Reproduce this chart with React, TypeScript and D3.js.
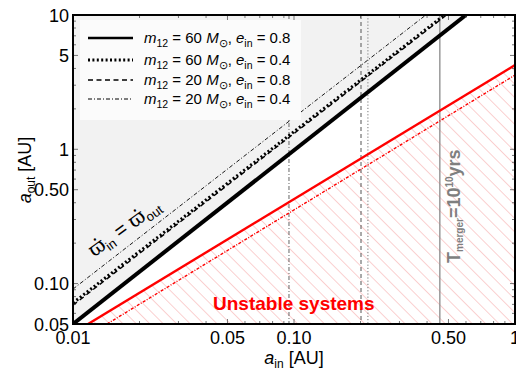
import React from "react";
import * as d3 from "d3";

// ---- data ----
const massLabels = ["60", "60", "20", "20"];
const eccLabels = ["0.8", "0.4", "0.8", "0.4"];
// omega_in = omega_out boundaries (two end points each, log-log straight lines)
const resonanceAin = [
  [0.01, 0.6],
  [0.01, 0.48],
  [0.01, 0.49],
  [0.01, 0.395],
];
const resonanceAout = [
  [0.05, 10],
  [0.0717, 10],
  [0.069, 10],
  [0.091, 10],
];
// T_merger = 1e10 yrs vertical lines
const mergerAin = [0.457, 0.216, 0.201, 0.0949];
// stability limits (red)
const stabilityAin = [
  [0.0117, 1],
  [0.01425, 1],
];
const stabilityAout = [
  [0.05, 4.24],
  [0.05, 3.57],
];
const xTickValues = [0.01, 0.05, 0.1, 0.5, 1];
const xTickLabels = ["0.01", "0.05", "0.10", "0.50", "1"];
const yTickValues = [0.05, 0.1, 0.5, 1, 5, 10];
const yTickLabels = ["0.05", "0.10", "0.50", "1", "5", "10"];

const W = 516;
const H = 375;
const L = 73, R = 515, T = 15, B = 324;
const FONT = "'Liberation Sans', Arial, sans-serif";

const lineStyles = [
  { w: 4, dash: "" },
  { w: 3, dash: "2,2.4" },
  { w: 1.4, dash: "5,3.5" },
  { w: 0.9, dash: "4,2,1,2" },
];
const legendStyles = [
  { w: 2.5, dash: "" },
  { w: 3, dash: "2,2.4" },
  { w: 1.5, dash: "5,3.5" },
  { w: 1, dash: "4,2,1,2" },
];
const vStyles = [
  { c: "#8a8a8a", w: 1.3, dash: "" },
  { c: "#777", w: 1, dash: "1.2,2" },
  { c: "#555", w: 1, dash: "4,3" },
  { c: "#555", w: 0.9, dash: "4,2,1,2" },
];

export default function App() {
  const x = d3.scaleLog().domain([0.01, 1]).range([L, R]);
  const y = d3.scaleLog().domain([0.05, 10]).range([B, T]);
  const line = d3
    .line<[number, number]>()
    .x((d) => x(d[0]))
    .y((d) => y(d[1]));

  const pts = (ai: number[], ao: number[]) =>
    ai.map((v, i) => [v, ao[i]] as [number, number]);

  // gray area above thick black boundary
  const black = pts(resonanceAin[0], resonanceAout[0]);
  const grayPoly: [number, number][] = [...black, [0.01, 10]];
  const redMain = pts(stabilityAin[0], stabilityAout[0]);
  const hatchPoly: [number, number][] = [...redMain, [1, 0.05]];

  const xMinor = x.ticks();
  const yMinor = y.ticks();

  const legendRows = [38, 60, 80, 99];

  return (
    <svg
      width={W}
      height={H}
      style={{ position: "absolute", left: 0, top: 0, background: "#fff" }}
      fontFamily={FONT}
    >
      <defs>
        <clipPath id="plotclip">
          <rect x={L} y={T} width={R - L} height={B - T} />
        </clipPath>
        <pattern
          id="hatch"
          patternUnits="userSpaceOnUse"
          width={9.5}
          height={9.5}
          patternTransform="rotate(-45)"
        >
          <line x1={0} y1={0} x2={0} y2={9.5} stroke="#f6a9a9" strokeWidth={1.1} />
        </pattern>
      </defs>

      <g clipPath="url(#plotclip)">
        <path d={line(grayPoly) + "Z"} fill="#f2f2f2" />
        <path d={line(hatchPoly) + "Z"} fill="url(#hatch)" />

        {mergerAin.map((a, i) => (
          <line
            key={"v" + i}
            x1={x(a)}
            x2={x(a)}
            y1={T}
            y2={B}
            stroke={vStyles[i].c}
            strokeWidth={vStyles[i].w}
            strokeDasharray={vStyles[i].dash}
          />
        ))}

        {stabilityAin.map((ai, i) => (
          <path
            key={"s" + i}
            d={line(pts(ai, stabilityAout[i])) || ""}
            fill="none"
            stroke="#ff0000"
            strokeWidth={i === 0 ? 2.4 : 1.4}
            strokeDasharray={i === 0 ? "" : "3,1.5,1,1.5"}
          />
        ))}

        {resonanceAin.map((ai, i) => (
          <path
            key={"r" + i}
            d={line(pts(ai, resonanceAout[i])) || ""}
            fill="none"
            stroke="#000"
            strokeWidth={lineStyles[i].w}
            strokeDasharray={lineStyles[i].dash}
          />
        ))}
      </g>

      {/* legend */}
      <rect x={80} y={20} width={221} height={100} fill="#fbfbfb" />
      {legendRows.map((ry, i) => (
        <g key={"lg" + i}>
          <line
            x1={88}
            x2={133}
            y1={ry}
            y2={ry}
            stroke="#000"
            strokeWidth={legendStyles[i].w}
            strokeDasharray={legendStyles[i].dash}
          />
          <text x={144} y={ry + 5} fontSize={15} fill="#000">
            <tspan fontStyle="italic">m</tspan>
            <tspan fontSize={10.5} dy={4}>12</tspan>
            <tspan dy={-4}>{` = ${massLabels[i]} `}</tspan>
            <tspan fontStyle="italic">M</tspan>
            <tspan fontSize={10.5} dy={4}>⊙</tspan>
            <tspan dy={-4}>{", "}</tspan>
            <tspan fontStyle="italic">e</tspan>
            <tspan fontSize={10.5} dy={4}>in</tspan>
            <tspan dy={-4}>{` = ${eccLabels[i]}`}</tspan>
          </text>
        </g>
      ))}

      {/* text annotations */}
      <text x={213} y={310} fontSize={19} fontWeight="bold" fill="#ff0000">
        Unstable systems
      </text>
      <text
        transform="translate(460,263) rotate(-90)"
        fontSize={18}
        fontWeight="bold"
        fill="#7f7f7f"
      >
        T
        <tspan fontSize={10} dy={3}>merger</tspan>
        <tspan dy={-3}>=10</tspan>
        <tspan fontSize={10} dy={-7}>10</tspan>
        <tspan dy={7}>yrs</tspan>
      </text>
      <text
        transform="translate(128,233) rotate(-36)"
        fontSize={20}
        textAnchor="middle"
        fill="#000"
      >
        <tspan fontFamily="'DejaVu Serif', serif">ϖ̇</tspan>
        <tspan fontSize={13} dy={4}>in</tspan>
        <tspan dy={-4}> = </tspan>
        <tspan fontFamily="'DejaVu Serif', serif">ϖ̇</tspan>
        <tspan fontSize={13} dy={4}>out</tspan>
      </text>

      {/* ticks */}
      <g stroke="#555" strokeWidth={0.8}>
        {xMinor.map((v, i) => {
          const major = xTickValues.some((t) => Math.abs(t - v) < 1e-9);
          const len = major ? 5 : 3;
          return (
            <g key={"xt" + i}>
              <line x1={x(v)} x2={x(v)} y1={B} y2={B - len} />
              <line x1={x(v)} x2={x(v)} y1={T} y2={T + len} />
            </g>
          );
        })}
        {yMinor.map((v, i) => {
          const major = yTickValues.some((t) => Math.abs(t - v) < 1e-9);
          const len = major ? 5 : 3;
          return (
            <g key={"yt" + i}>
              <line x1={L} x2={L + len} y1={y(v)} y2={y(v)} />
              <line x1={R} x2={R - len} y1={y(v)} y2={y(v)} />
            </g>
          );
        })}
      </g>

      {/* frame */}
      <rect x={L} y={T} width={R - L} height={B - T} fill="none" stroke="#000" strokeWidth={2} />

      {/* tick labels */}
      {xTickValues.map((v, i) => (
        <text key={"xl" + i} x={x(v)} y={344} fontSize={18} textAnchor="middle" fill="#000">
          {xTickLabels[i]}
        </text>
      ))}
      {yTickValues.map((v, i) => (
        <text
          key={"yl" + i}
          x={69}
          y={y(v) + 6.5}
          fontSize={18}
          textAnchor="end"
          fill="#000"
        >
          {yTickLabels[i]}
        </text>
      ))}

      {/* axis titles */}
      <text x={294} y={364} fontSize={18} textAnchor="middle" fill="#000">
        <tspan fontStyle="italic">a</tspan>
        <tspan fontSize={12} dy={4}>in</tspan>
        <tspan dy={-4}> [AU]</tspan>
      </text>
      <text transform="translate(31,170) rotate(-90)" fontSize={18} textAnchor="middle" fill="#000">
        <tspan fontStyle="italic">a</tspan>
        <tspan fontSize={12} dy={4}>out</tspan>
        <tspan dy={-4}> [AU]</tspan>
      </text>
    </svg>
  );
}
